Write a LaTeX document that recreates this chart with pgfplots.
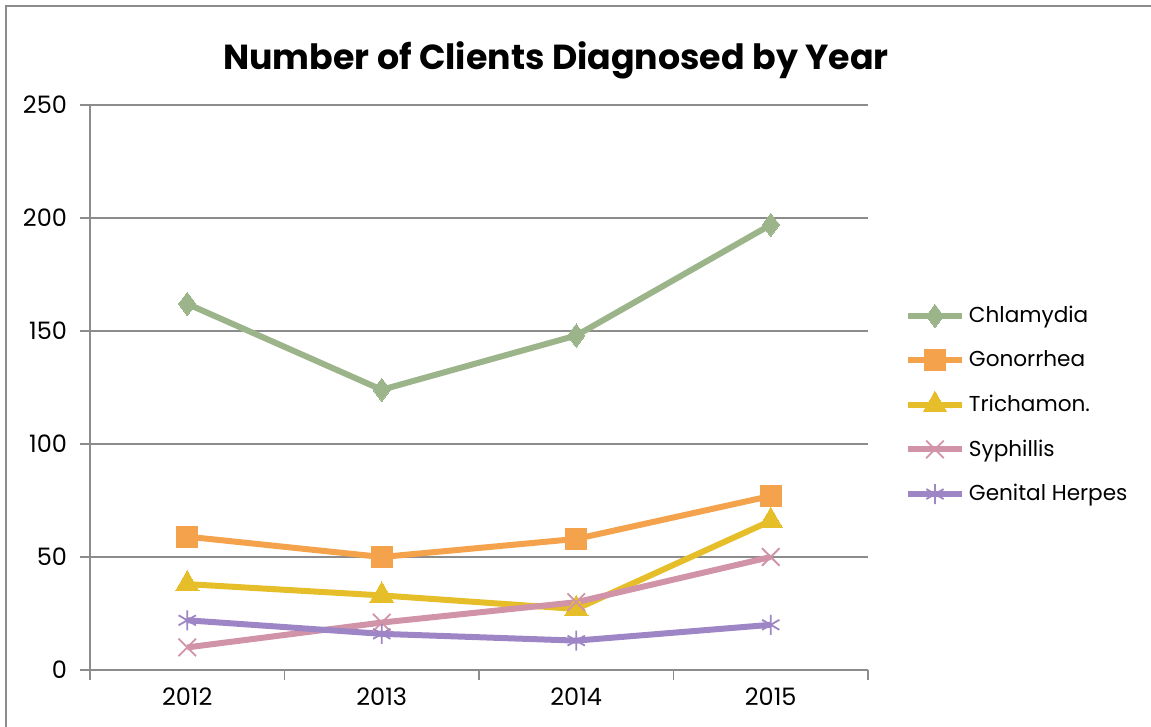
\documentclass[border=0pt]{standalone}
\usepackage{pgfplots}
\pgfplotsset{compat=1.18}
\usepackage{fontspec}
\setmainfont{Poppins}
\definecolor{cgreen}{HTML}{9CB48A}
\definecolor{corange}{HTML}{F4A24B}
\definecolor{cyellow}{HTML}{E5BE2A}
\definecolor{cpink}{HTML}{D193A8}
\definecolor{cpurple}{HTML}{9E86C6}
\definecolor{cgrid}{HTML}{8C8C8C}
\begin{document}
\begin{tikzpicture}
\useasboundingbox (0,0) rectangle (575.5pt,-363.5pt);
\draw[cgrid, line width=0.8pt] (3pt,-363.5pt) -- (3pt,-3pt) -- (575.5pt,-3pt);
\node[font=\bfseries\fontsize{17.4}{20}\selectfont] at (278pt,-30pt) {Number of Clients Diagnosed by Year};
\begin{axis}[
  at={(45pt,-335pt)}, anchor=south west,
  scale only axis, width=389pt, height=282.5pt,
  xmin=-0.5, xmax=3.5, ymin=0, ymax=250,
  axis x line=bottom, axis y line=left,
  axis line style={cgrid, line width=0.7pt, -},
  ytick={0,50,100,150,200,250},
  ymajorgrids, grid style={cgrid, line width=0.7pt},
  tick align=outside, major tick length=5pt,
  tick style={cgrid, line width=0.7pt},
  xtick={-0.5,0.5,1.5,2.5,3.5}, xticklabels={},
  extra x ticks={0,1,2,3}, extra x tick labels={2012,2013,2014,2015},
  extra x tick style={major tick length=0pt, grid=none},
  /pgf/number format/assume math mode=true,
  xticklabel style={yshift=-5.5pt},
  yticklabel style={xshift=-3pt},
  ticklabel style={font=\fontsize{12}{14}\selectfont},
  clip=false,
  legend style={at={(1.047,0.4690)}, anchor=west, draw=none, fill=none,
    font=\fontsize{10.8}{13}\selectfont, row sep=8.6pt, inner sep=0pt,
    /tikz/every even column/.append style={column sep=1pt}},
  legend cell align=left,
  legend image code/.code={\draw[mark repeat=2,mark phase=2,#1] plot coordinates {(0pt,0pt) (13.5pt,0pt) (27pt,0pt)};},
  every axis plot/.append style={line width=3pt},
]
\addplot[cgreen, mark=diamond*, mark size=5.8pt, mark options={solid, line width=0pt}] coordinates {(0,162) (1,124) (2,148) (3,197)};
\addlegendentry{Chlamydia}
\addplot[corange, mark=square*, mark size=5.2pt, mark options={solid, line width=0pt}] coordinates {(0,59) (1,50) (2,58) (3,77)};
\addlegendentry{Gonorrhea}
\addplot[cyellow, mark=triangle*, mark size=6.8pt, mark options={solid, line width=0pt}] coordinates {(0,38) (1,33) (2,27) (3,66)};
\addlegendentry{Trichamon.}
\addplot[cpink, mark=x, mark size=6.2pt, mark options={solid, line width=0.9pt}] coordinates {(0,10) (1,21) (2,30) (3,50)};
\addlegendentry{Syphillis}
\addplot[cpurple, mark=asterisk, mark size=5pt, mark options={solid, line width=0.9pt}] coordinates {(0,22) (1,16) (2,13) (3,20)};
\addlegendentry{Genital Herpes}
\end{axis}
\end{tikzpicture}
\end{document}
